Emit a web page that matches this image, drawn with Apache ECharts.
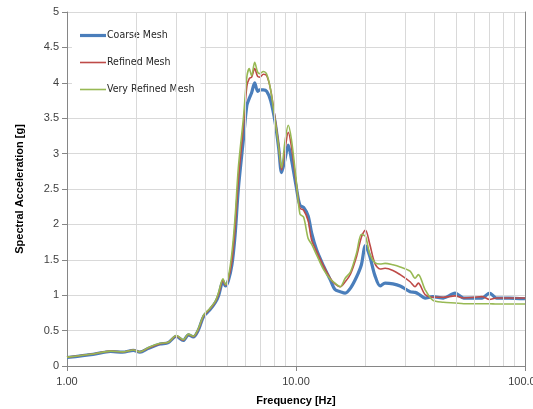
<!DOCTYPE html>
<html>
<head>
<meta charset="utf-8">
<script src="https://cdn.jsdelivr.net/npm/echarts@6/dist/echarts.min.js"></script>
<style>
  html, body { margin: 0; padding: 0; background: #fff; }
  #chart { width: 533px; height: 409px; }
</style>
</head>
<body>
<div id="chart"></div>
<script>
// frequency samples [Hz], shared by the three meshes
var freqHz = [1.0, 1.3, 1.55, 1.75, 1.95, 2.08, 2.27, 2.55, 2.77, 3.0, 3.22, 3.39, 3.56, 3.75, 3.95, 4.2, 4.45, 4.6, 4.8, 4.92,
    5.06, 5.25, 5.42, 5.6, 5.9, 6.1, 6.25, 6.4, 6.6, 6.8, 6.95, 7.2, 7.45, 7.75, 8.1, 8.4, 8.65, 8.95, 9.25, 9.55,
    10.0, 10.4, 10.8, 11.3, 11.7, 12.3, 13.2, 14.1, 14.8, 15.6, 16.4, 17.3, 18.4, 19.3, 20.1, 21.0, 22.1, 23.3, 24.5, 26.5,
    28.5, 31.5, 33.1, 34.2, 36.6, 39.5, 44, 49.5, 54, 60, 65, 70, 75, 85, 100];

var coarseMesh = [0.12, 0.165, 0.205, 0.195, 0.22, 0.195, 0.25, 0.31, 0.33, 0.42, 0.36, 0.44, 0.41, 0.51, 0.70, 0.79, 0.90, 1.0, 1.2, 1.13,
    1.2, 1.43, 1.85, 2.5, 3.22, 3.68, 3.78, 3.86, 4.0, 3.88, 3.9, 3.9, 3.88, 3.75, 3.45, 3.08, 2.73, 2.92, 3.12, 2.92,
    2.55, 2.27, 2.24, 2.12, 1.88, 1.64, 1.41, 1.22, 1.08, 1.05, 1.03, 1.1, 1.26, 1.43, 1.70, 1.55, 1.28, 1.13, 1.17, 1.16,
    1.13, 1.05, 1.04, 1.02, 0.96, 0.98, 0.96, 1.03, 0.96, 0.96, 0.96, 1.03, 0.96, 0.96, 0.95];

var refinedMesh = [0.125, 0.17, 0.21, 0.2, 0.225, 0.2, 0.255, 0.315, 0.335, 0.425, 0.365, 0.445, 0.415, 0.52, 0.71, 0.8, 0.91, 1.02, 1.21, 1.14,
    1.22, 1.48, 1.95, 2.62, 3.4, 3.95, 4.06, 4.08, 4.2, 4.09, 4.08, 4.12, 4.1, 3.9, 3.5, 3.12, 2.77, 3.05, 3.3, 3.1,
    2.6, 2.23, 2.2, 2.05, 1.78, 1.62, 1.41, 1.24, 1.16, 1.12, 1.19, 1.3, 1.55, 1.82, 1.92, 1.72, 1.45, 1.37, 1.38, 1.35,
    1.29, 1.19, 1.12, 1.17, 1.01, 0.97, 0.97, 0.99, 0.96, 0.97, 0.98, 0.94, 0.96, 0.96, 0.96];

var veryRefinedMesh = [0.125, 0.17, 0.21, 0.2, 0.225, 0.2, 0.26, 0.32, 0.335, 0.43, 0.37, 0.45, 0.42, 0.53, 0.72, 0.81, 0.92, 1.05, 1.23, 1.15,
    1.25, 1.6, 2.1, 2.8, 3.52, 4.08, 4.2, 4.1, 4.29, 4.15, 4.13, 4.16, 4.12, 3.9, 3.47, 3.1, 2.8, 3.17, 3.4, 3.2,
    2.65, 2.15, 2.1, 1.8, 1.72, 1.57, 1.36, 1.23, 1.17, 1.12, 1.24, 1.33, 1.6, 1.86, 1.83, 1.58, 1.46, 1.44, 1.45, 1.43,
    1.40, 1.34, 1.24, 1.29, 1.08, 0.93, 0.9, 0.89, 0.88, 0.88, 0.88, 0.88, 0.875, 0.875, 0.875];

// minor log gridlines
var minorGrid = [2, 3, 4, 5, 6, 7, 8, 9, 20, 30, 40, 50, 60, 70, 80, 90];

function pairs(vals) {
    return freqHz.map(function (f, i) { return [f, vals[i]]; });
}

var font = 'Liberation Sans, Arial, sans-serif';
var narrow = 'Liberation Sans Narrow, DejaVu Sans Condensed, Liberation Sans, sans-serif';
var gridColor = '#d9d9d9';
var axisColor = '#868686';
var thick = 'path://M0 0H26V3.2H0Z';
var thin = 'path://M0 0H26V1.6H0Z';

var chart = echarts.init(document.getElementById('chart'), null, {renderer: 'canvas'});
var option = {
    animation: false,
    backgroundColor: '#fff',
    grid: {left: 67, right: 8, top: 12, bottom: 43, outerBoundsMode: 'none'},
    legend: {
        data: [
            {name: 'Coarse Mesh', icon: thick},
            {name: 'Refined Mesh', icon: thin},
            {name: 'Very Refined Mesh', icon: thin}
        ],
        orient: 'vertical',
        left: 72,
        top: 23,
        padding: [7, 6, 7, 8],
        backgroundColor: '#fff',
        itemWidth: 26,
        itemHeight: 12,
        itemGap: 16,
        textStyle: {fontFamily: narrow, fontSize: 10.5, color: '#262626', padding: [0, 0, 0, -4]}
    },
    xAxis: {
        type: 'log',
        logBase: 10,
        min: 1,
        max: 100,
        name: 'Frequency [Hz]',
        nameLocation: 'middle',
        nameGap: 29,
        nameTextStyle: {fontFamily: font, fontSize: 11, fontWeight: 'bold', color: '#000'},
        axisLine: {show: true, lineStyle: {color: axisColor, width: 1}},
        axisTick: {show: true, length: 5, lineStyle: {color: axisColor}},
        axisLabel: {
            fontFamily: font, fontSize: 11, color: '#404040', margin: 10,
            formatter: function (v) { return v.toFixed(2); }
        },
        splitLine: {show: true, lineStyle: {color: gridColor, width: 1}},
        minorTick: {show: false},
        minorSplitLine: {show: false}
    },
    yAxis: [{
        type: 'value',
        min: 0,
        max: 5,
        interval: 0.5,
        name: 'Spectral Acceleration [g]',
        nameLocation: 'middle',
        nameGap: 42,
        nameTextStyle: {fontFamily: font, fontSize: 11, fontWeight: 'bold', color: '#000'},
        axisLine: {show: true, lineStyle: {color: axisColor, width: 1}},
        axisTick: {show: true, length: 5, lineStyle: {color: axisColor}},
        axisLabel: {fontFamily: font, fontSize: 11, color: '#404040', margin: 8},
        splitLine: {show: true, lineStyle: {color: gridColor, width: 1}}
    }, {
        type: 'value',
        min: 0,
        max: 5,
        interval: 0.5,
        position: 'right',
        axisLine: {show: true, lineStyle: {color: axisColor, width: 1}},
        axisTick: {show: false},
        axisLabel: {show: false},
        splitLine: {show: false}
    }],
    series: [
        {
            name: 'gridlines',
            type: 'line',
            data: [],
            z: 1,
            silent: true,
            markLine: {
                silent: true,
                symbol: 'none',
                label: {show: false},
                lineStyle: {color: gridColor, width: 1, type: 'solid'},
                emphasis: {disabled: true},
                data: minorGrid.map(function (f) { return {xAxis: f}; })
            }
        },
        {
            name: 'Coarse Mesh',
            type: 'line',
            data: pairs(coarseMesh),
            symbol: 'none',
            smooth: 0.3,
            lineStyle: {color: '#4a7ebb', width: 3.2},
            itemStyle: {color: '#4a7ebb'}
        },
        {
            name: 'Refined Mesh',
            type: 'line',
            data: pairs(refinedMesh),
            symbol: 'none',
            smooth: 0.3,
            lineStyle: {color: '#be4b48', width: 1.6},
            itemStyle: {color: '#be4b48'}
        },
        {
            name: 'Very Refined Mesh',
            type: 'line',
            data: pairs(veryRefinedMesh),
            symbol: 'none',
            smooth: 0.3,
            lineStyle: {color: '#98b954', width: 1.6},
            itemStyle: {color: '#98b954'}
        }
    ]
};
chart.setOption(option);
</script>
</body>
</html>
